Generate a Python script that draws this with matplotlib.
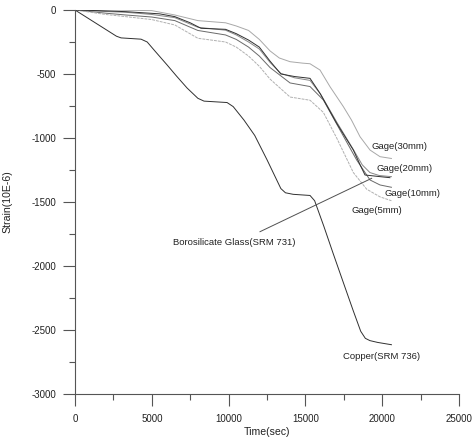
import matplotlib
matplotlib.use("Agg")
import matplotlib.pyplot as plt
from matplotlib.ticker import MultipleLocator

plt.rcParams['font.family'] = ['Liberation Sans', 'DejaVu Sans']
plt.rcParams['axes.unicode_minus'] = False

# Copper (SRM 736)
t_cu = [0, 2700, 3000, 4300, 4700, 5200, 6000, 6600, 7300, 8000, 8400, 9900, 10300, 11000,
        11700, 12500, 13400, 13700, 14200, 15300, 15600, 16200, 16800, 17500, 18100, 18600,
        18900, 19200, 19700, 20600]
s_cu = [0, -205, -218, -228, -250, -320, -430, -515, -610, -690, -712, -723, -755, -860,
        -980, -1170, -1395, -1428, -1440, -1449, -1490, -1690, -1900, -2140, -2345, -2510,
        -2565, -2583, -2597, -2615]

# Borosilicate Glass (SRM 731)
t_gl = [0, 1500, 3300, 5500, 6500, 7500, 8200, 9800, 10500, 11300, 12000, 12700, 13400,
        14300, 15300, 15950, 17036, 18120, 18600, 18880, 19857, 20500]
s_gl = [0, -5, -13, -30, -52, -100, -143, -151, -185, -235, -290, -400, -500,
        -520, -534, -651, -885, -1094, -1220, -1289, -1302, -1310]

# Gage(30mm)
t_30 = [0, 2200, 5000, 6500, 8000, 9800, 10500, 11300, 12000, 12700, 13300, 14000, 14800,
        15300, 15950, 16600, 17470, 18000, 18555, 19206, 19857, 20600]
s_30 = [0, 0, -5, -39, -83, -100, -125, -160, -230, -320, -375, -404, -415,
        -420, -469, -599, -755, -860, -990, -1094, -1146, -1160]

# Gage(20mm)
t_20 = [0, 2000, 3300, 5000, 6500, 8000, 9800, 10500, 11300, 12000, 12700, 13400, 14300,
        15300, 16000, 17036, 18120, 18700, 19200, 19800, 20600]
s_20 = [0, -12, -18, -35, -60, -135, -158, -195, -250, -305, -410, -495, -530,
        -550, -660, -875, -1090, -1210, -1270, -1293, -1302]

# Gage(10mm)
t_10 = [0, 2000, 3300, 5000, 6500, 8000, 9800, 10500, 11300, 12000, 12700, 14000, 15300,
        16168, 17253, 18338, 19206, 19857, 20600]
s_10 = [0, -25, -39, -55, -83, -160, -195, -230, -290, -360, -450, -570, -598,
        -703, -938, -1172, -1328, -1367, -1385]

# Gage(5mm)
t_05 = [0, 2000, 3300, 5000, 6500, 8000, 9800, 10500, 11300, 12000, 12700, 14000, 15300,
        16168, 17036, 18120, 18989, 19857, 20600]
s_05 = [0, -35, -52, -75, -117, -221, -250, -290, -360, -440, -540, -680, -705,
        -800, -1000, -1270, -1400, -1460, -1490]

x_ticks = [0, 5000, 10000, 15000, 20000, 25000]
y_ticks = [0, -500, -1000, -1500, -2000, -2500, -3000]

fig = plt.figure(figsize=(4.72, 4.42), dpi=100)
ax = fig.add_axes([0.1589, 0.1086, 0.8136, 0.8688])

lw = 0.7
ax.plot(t_30, s_30, color='#a8a8a8', lw=lw)
ax.plot(t_20, s_20, color='#888888', lw=lw)
ax.plot(t_10, s_10, color='#6a6a6a', lw=lw)
ax.plot(t_05, s_05, color='#b0b0b0', lw=lw, ls=(0, (3, 1)))
ax.plot(t_gl, s_gl, color='#303030', lw=lw)
ax.plot(t_cu, s_cu, color='#303030', lw=lw)

fs = 6.8
tc = '#222222'
ax.text(19300, -1068, 'Gage(30mm)', fontsize=fs, color=tc, ha='left', va='center')
ax.text(19600, -1240, 'Gage(20mm)', fontsize=fs, color=tc, ha='left', va='center')
ax.text(20180, -1432, 'Gage(10mm)', fontsize=fs, color=tc, ha='left', va='center')
ax.text(17970, -1568, 'Gage(5mm)', fontsize=fs, color=tc, ha='left', va='center')
ax.text(6400, -1813, 'Borosilicate Glass(SRM 731)', fontsize=fs, color=tc, ha='left', va='center')
ax.text(17430, -2706, 'Copper(SRM 736)', fontsize=fs, color=tc, ha='left', va='center')
ax.plot([12044, 19314], [-1732, -1315], color='#505050', lw=0.7)

ax.set_xlim(0, 25000)
ax.set_ylim(-3000, 0)
ax.set_xticks(x_ticks)
ax.set_yticks(y_ticks)
ax.xaxis.set_minor_locator(MultipleLocator(2500))
ax.yaxis.set_minor_locator(MultipleLocator(250))

for s in ['top', 'right']:
    ax.spines[s].set_visible(False)
for s in ['left', 'bottom']:
    ax.spines[s].set_color('#555555')
    ax.spines[s].set_linewidth(0.8)

ax.tick_params(axis='both', which='major', length=8.5, width=0.8, color='#555555',
               labelsize=7, labelcolor=tc, direction='out')
ax.tick_params(axis='both', which='minor', length=4, width=0.8, color='#555555',
               direction='out')
ax.tick_params(axis='x', which='major', pad=6)
ax.tick_params(axis='y', which='major', pad=5)

ax.set_xlabel('Time(sec)', fontsize=7.6, color=tc)
ax.set_ylabel('Strain(10E-6)', fontsize=7.6, color=tc)
ax.xaxis.set_label_coords(0.5, -0.098)
ax.xaxis.label.set_va('center')
ax.yaxis.set_label_coords(-0.176, 0.5)
ax.yaxis.label.set_va('center')

fig.savefig('out.png', dpi=100)
